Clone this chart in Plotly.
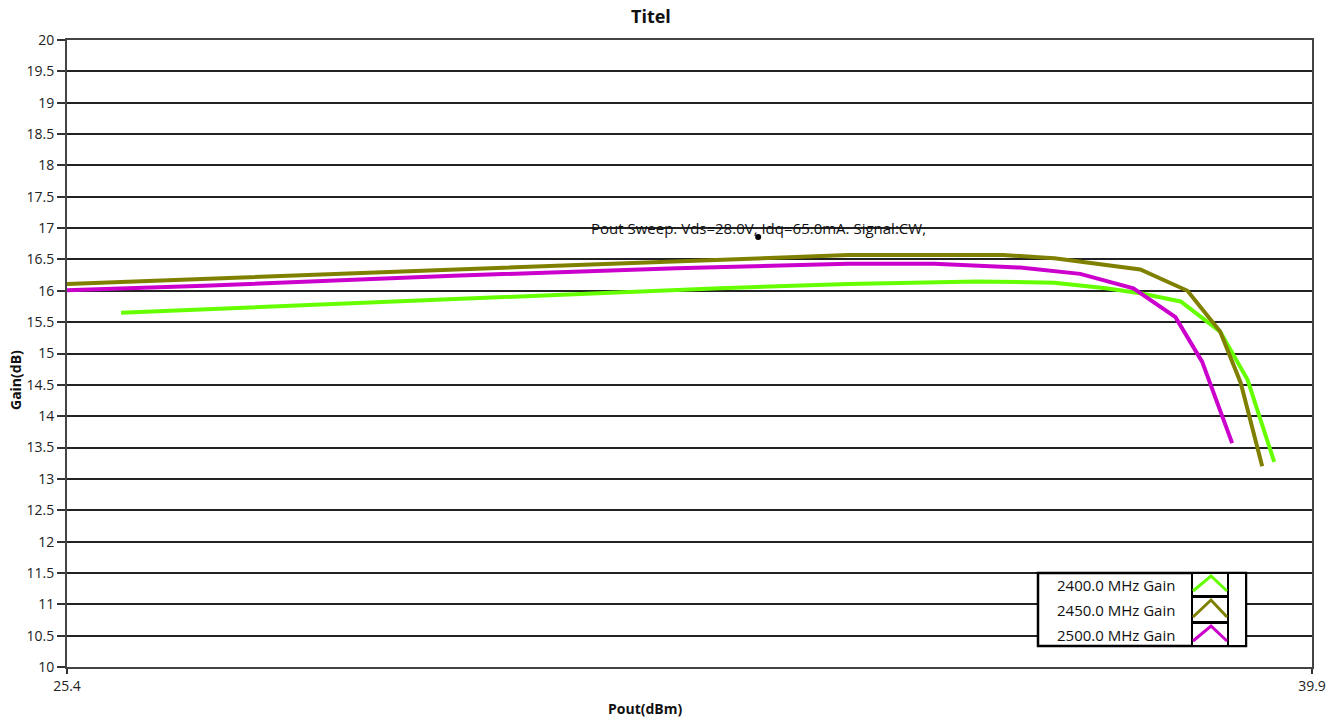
import plotly.graph_objects as go

# ---- data ----
pout_2400 = [26.03, 28.0, 29.9, 31.6, 33.0, 34.5, 36.0, 36.9, 37.5, 37.9, 38.37, 38.83, 39.15, 39.46]
gain_2400 = [15.65, 15.76, 15.87, 15.96, 16.04, 16.11, 16.15, 16.13, 16.04, 15.96, 15.83, 15.35, 14.58, 13.27]

pout_2450 = [25.4, 27.0, 29.9, 32.6, 34.5, 36.3, 36.9, 37.9, 38.45, 38.83, 39.07, 39.32]
gain_2450 = [16.11, 16.19, 16.33, 16.48, 16.57, 16.57, 16.52, 16.34, 16.00, 15.35, 14.53, 13.20]

pout_2500 = [25.4, 27.0, 29.9, 32.5, 34.5, 35.5, 36.5, 37.2, 37.82, 38.31, 38.62, 38.97]
gain_2500 = [16.01, 16.08, 16.24, 16.36, 16.43, 16.43, 16.37, 16.27, 16.04, 15.58, 14.87, 13.57]

series_names = ["2400.0 MHz Gain", "2450.0 MHz Gain", "2500.0 MHz Gain"]
series_colors = ["#66FF00", "#808000", "#CC00CC"]

note_text = "Pout Sweep. Vds=28.0V, Idq=65.0mA. Signal:CW,"
note_x = [33.45]
note_y = [16.86]

y_ticks = [10 + 0.5 * i for i in range(21)]
y_labels = [("%g" % v) for v in y_ticks]
x_ticks = [25.4, 39.9]
x_labels = ["25.4", "39.9"]

# ---- layout geometry (pixels) ----
W, H = 1333, 719
L, R, T, B = 67, 1312, 40, 667


def px(x):
    return (x - L) / (R - L)


def py(y):
    return (B - y) / (B - T)


FONT = "Open Sans, DejaVu Sans, sans-serif"

fig = go.Figure()
for xs, ys, name, col in zip([pout_2400, pout_2450, pout_2500],
                             [gain_2400, gain_2450, gain_2500],
                             series_names, series_colors):
    fig.add_trace(go.Scatter(x=xs, y=ys, mode="lines", name=name,
                             line=dict(color=col, width=4), showlegend=False))

# annotation marker (dot)
fig.add_trace(go.Scatter(x=note_x, y=note_y, mode="markers",
                         marker=dict(color="black", size=6), showlegend=False,
                         hoverinfo="skip"))

shapes = []
annotations = []

# annotation text
annotations.append(dict(x=note_x[0], y=17.0, xref="x", yref="y", text=note_text,
                        showarrow=False, xanchor="center", yanchor="middle",
                        font=dict(family=FONT, size=15, color="#111")))

# title and axis titles
annotations.append(dict(x=px(651), y=py(16), xref="paper", yref="paper",
                        text="<b>Titel</b>", showarrow=False, xanchor="center",
                        yanchor="middle", font=dict(family=FONT, size=18, color="#111")))
annotations.append(dict(x=px(645), y=py(709), xref="paper", yref="paper",
                        text="<b>Pout(dBm)</b>", showarrow=False, xanchor="center",
                        yanchor="middle", font=dict(family=FONT, size=14, color="#111")))
annotations.append(dict(x=px(15), y=py(380), xref="paper", yref="paper",
                        text="<b>Gain(dB)</b>", showarrow=False, xanchor="center",
                        yanchor="middle", textangle=-90,
                        font=dict(family=FONT, size=14, color="#111")))

# ---- custom legend ----
lx0, lx1 = 1038, 1246
ly0, ly1 = 573, 646
shapes.append(dict(type="rect", xref="paper", yref="paper",
                   x0=px(lx0), x1=px(lx1), y0=py(ly1), y1=py(ly0),
                   fillcolor="white", line=dict(color="black", width=2.5), layer="above"))
rows = [(573, 596), (597, 622), (623, 646)]
for (r0, r1) in rows:
    shapes.append(dict(type="rect", xref="paper", yref="paper",
                       x0=px(1192), x1=px(1228), y0=py(r1), y1=py(r0),
                       fillcolor="white", line=dict(color="black", width=2), layer="above"))
shapes.append(dict(type="rect", xref="paper", yref="paper",
                   x0=px(1228), x1=px(1246), y0=py(646), y1=py(573),
                   fillcolor="white", line=dict(color="black", width=2), layer="above"))
for i, ((r0, r1), name, col) in enumerate(zip(rows, series_names, series_colors)):
    top = r0 + 3
    bot = r1 - 5
    path = "M %f,%f L %f,%f L %f,%f" % (px(1193), py(bot), px(1211), py(top), px(1227), py(bot))
    shapes.append(dict(type="path", xref="paper", yref="paper", path=path,
                       line=dict(color=col, width=3), layer="above"))
    annotations.append(dict(x=px(1177), y=py((r0 + r1) / 2), xref="paper", yref="paper",
                            text=name, showarrow=False, xanchor="right", yanchor="middle",
                            font=dict(family=FONT, size=15, color="#111")))

fig.update_layout(
    width=W, height=H, autosize=False,
    margin=dict(l=L, r=W - R, t=T, b=H - B, pad=0, autoexpand=False),
    paper_bgcolor="white", plot_bgcolor="white",
    showlegend=False,
    shapes=shapes, annotations=annotations,
    xaxis=dict(range=[25.4, 39.9], tickvals=x_ticks, ticktext=x_labels,
               ticks="outside", ticklen=5, tickwidth=1.5, tickcolor="#333",
               showgrid=False, zeroline=False, showline=True, linecolor="#444",
               linewidth=2, mirror=True, automargin=False,
               tickfont=dict(family=FONT, size=14, color="#222")),
    yaxis=dict(range=[10, 20], tickvals=y_ticks, ticktext=y_labels,
               ticks="outside", ticklen=8, tickwidth=1.5, tickcolor="#333",
               showgrid=True, gridcolor="#222", gridwidth=1.5,
               zeroline=False, showline=True, linecolor="#444", linewidth=2,
               mirror=True, automargin=False,
               tickfont=dict(family=FONT, size=14, color="#222")),
)

fig.write_html("out.html")
